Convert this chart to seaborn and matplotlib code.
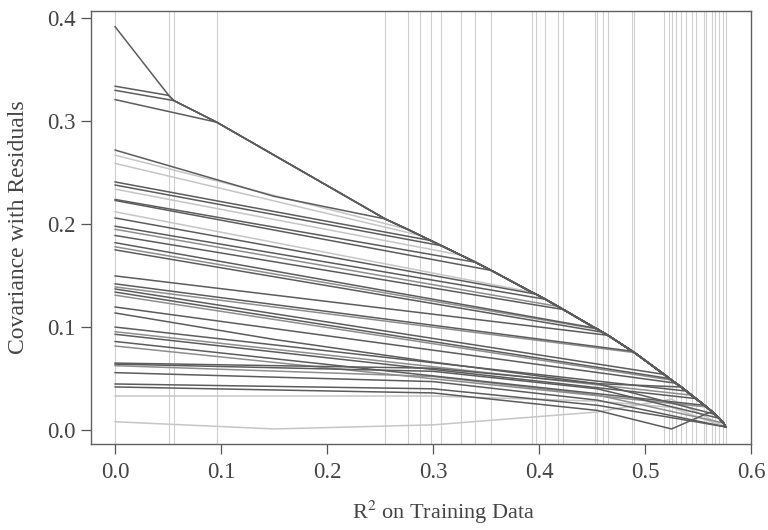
import numpy as np
import pandas as pd
import matplotlib
matplotlib.use("Agg")
import matplotlib.pyplot as plt
import seaborn as sns

# ---- data ----
# breakpoints (R^2 where a variable enters) and the max-covariance envelope there
break_x = [0.0, 0.0508, 0.0556, 0.096, 0.255, 0.276, 0.288, 0.298, 0.308, 0.326,
           0.340, 0.355, 0.393, 0.397, 0.406, 0.418, 0.423, 0.453, 0.455, 0.460,
           0.465, 0.488, 0.490, 0.518, 0.523, 0.525, 0.529, 0.534, 0.539, 0.544,
           0.548, 0.556, 0.558, 0.563, 0.566, 0.570, 0.574, 0.576]
envelope_y = [0.392, 0.325, 0.320, 0.299, 0.205, 0.195, 0.189, 0.184, 0.179, 0.170,
              0.163, 0.155, 0.134, 0.132, 0.127, 0.120, 0.117, 0.099, 0.098, 0.095,
              0.092, 0.0765, 0.0752, 0.054, 0.050, 0.0485, 0.0455, 0.0418, 0.0378, 0.0338,
              0.0305, 0.024, 0.0224, 0.018, 0.0152, 0.0114, 0.0068, 0.003]

# per-variable covariance paths (line 0 is the variable that starts on the envelope)
start_y = [0.392, 0.334, 0.330, 0.321, 0.272, 0.267, 0.259, 0.241, 0.238, 0.234, 0.224,
           0.223, 0.212, 0.206, 0.198, 0.195, 0.189, 0.182, 0.178, 0.175, 0.1497,
           0.142, 0.139, 0.137, 0.134, 0.131, 0.1195, 0.1137, 0.100, 0.0955, 0.093,
           0.086, 0.0816, 0.065, 0.064, 0.0625, 0.0557, 0.0447, 0.0418, 0.033, 0.008]
nan = float("nan")
y_at_015 = [nan, nan, nan, nan, 0.227, nan, nan, nan, nan, nan, nan,
            nan, nan, nan, nan, nan, nan, nan, nan, nan, nan,
            nan, nan, nan, nan, nan, nan, 0.088, nan, nan, nan,
            nan, nan, nan, nan, nan, nan, nan, nan, nan, 0.001]
y_at_030 = [nan] * 27 + [0.066, nan, nan, nan, nan, nan,
                         0.060, 0.057, 0.052, 0.047, 0.040, 0.036, 0.033, 0.005]
y_at_0455 = [nan] * 27 + [0.045, nan, nan, nan, nan, nan,
                          0.045, 0.040, 0.034, 0.029, 0.024, 0.019, 0.028, 0.0175]
y_at_0525 = [nan] * 37 + [0.012, 0.001, 0.022, 0.030]
join_idx = list(range(0, 33)) + [34, 35, 36, 37, 37, 33, 37, 37]
shade = ["d", "d", "d", "d", "d", "l", "l", "d", "d", "l", "d",
         "d", "l", "d", "d", "m", "d", "d", "m", "d", "d",
         "d", "m", "d", "d", "m", "d", "d", "d", "m", "d",
         "d", "m", "d", "d", "m", "d", "d", "d", "l", "l"]

grid_x = [0.15, 0.30, 0.455, 0.525]

# ---- build long table ----
rows = []
for i, s in enumerate(start_y):
    j0 = join_idx[i]
    jx = break_x[j0]
    rows.append((i, 0.0, s, shade[i]))
    for gx, arr in zip(grid_x, [y_at_015, y_at_030, y_at_0455, y_at_0525]):
        v = arr[i]
        if not np.isnan(v) and 0.0 < gx < jx:
            rows.append((i, gx, v, shade[i]))
    for j in range(max(j0, 1), len(break_x)):
        rows.append((i, break_x[j], envelope_y[j], shade[i]))
df = pd.DataFrame(rows, columns=["var", "r2", "cov", "shade"])

# ---- plot ----
sns.set_style("white")
plt.rcParams["font.family"] = ["Liberation Serif", "DejaVu Serif"]
plt.rcParams["mathtext.fontset"] = "stix"

fig = plt.figure(figsize=(7.68, 5.30), dpi=100)
ax = fig.add_axes([0.118, 0.1617, 0.8599, 0.8175])

for bx in break_x:
    ax.axvline(bx, color="#cfcfcf", lw=0.8, zorder=0)

palette = {"d": "#5c5c5c", "m": "#8e8e8e", "l": "#c6c6c6"}
sns.lineplot(data=df, x="r2", y="cov", units="var", estimator=None, sort=False,
             hue="shade", palette=palette, hue_order=["l", "m", "d"],
             linewidth=1.1, legend=False, ax=ax, zorder=2)

ax.set_xlim(-0.0229, 0.600)
ax.set_ylim(-0.0139, 0.407)
xt = [0.0, 0.1, 0.2, 0.3, 0.4, 0.5, 0.6]
yt = [0.0, 0.1, 0.2, 0.3, 0.4]
ax.set_xticks(xt)
ax.set_xticklabels([f"{v:.1f}" for v in xt])
ax.set_yticks(yt)
ax.set_yticklabels([f"{v:.1f}" for v in yt])
ax.tick_params(axis="both", direction="out", length=7, width=0.9, color="#555555",
               labelsize=16.5, labelcolor="#444444", bottom=True, left=True)
ax.tick_params(axis="x", pad=6)
ax.tick_params(axis="y", pad=4)
for sp in ax.spines.values():
    sp.set_visible(True)
    sp.set_color("#606060")
    sp.set_linewidth(1.0)

ax.set_xlabel(r"R$^2$ on Training Data", fontsize=16, color="#444444")
ax.set_ylabel("Covariance with Residuals", fontsize=17, color="#444444")
ax.xaxis.set_label_coords(0.535, -0.125)
ax.yaxis.set_label_coords(-0.093, 0.5)

fig.savefig("out.png", dpi=100)
